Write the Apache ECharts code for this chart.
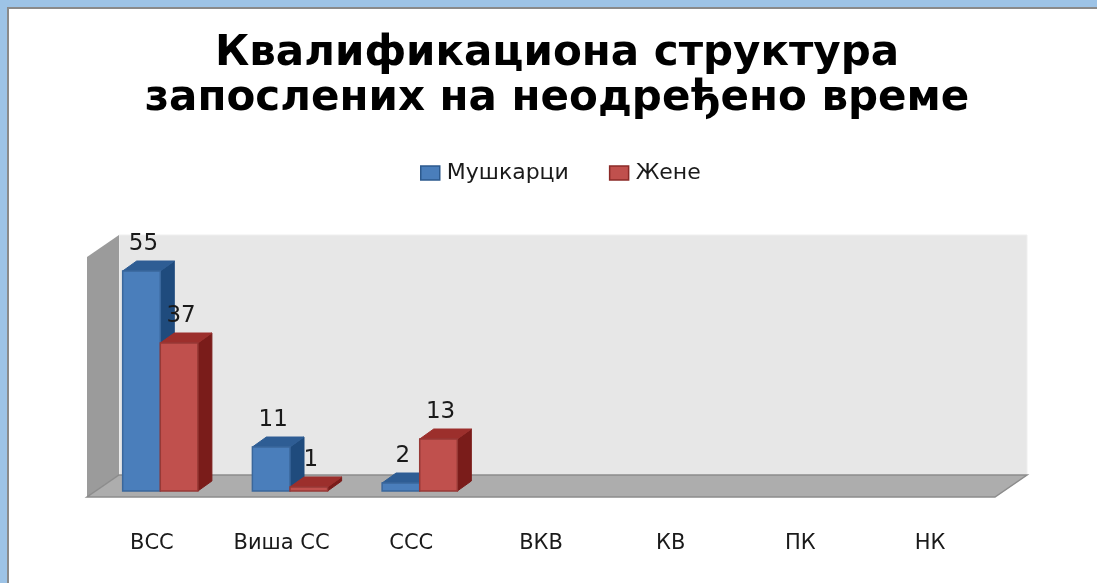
<!DOCTYPE html>
<html>
<head>
<meta charset="utf-8">
<script src="https://cdn.jsdelivr.net/npm/echarts@6/dist/echarts.min.js"></script>
<style>
  html, body { margin: 0; padding: 0; background: #9dc3e6; }
  #frame {
    position: absolute; left: 7px; top: 7px; right: 0; bottom: 0;
    border-left: 2px solid #8a8a8a; border-top: 2px solid #8a8a8a;
    background: #fff;
  }
  #chart { position: absolute; left: 0; top: 0; width: 1097px; height: 583px; }
</style>
</head>
<body>
<div id="frame"></div>
<div id="chart"></div>
<script>
// категорије и вредности
const categories = ['ВСС', 'Виша СС', 'ССС', 'ВКВ', 'КВ', 'ПК', 'НК'];
const men = [55, 11, 2, null, null, null, null];
const women = [37, 1, 13, null, null, null, null];
const seriesNames = ['Мушкарци', 'Жене'];
const axisMax = 60;

const chart = echarts.init(document.getElementById('chart'));

// дубина стубова и зидова
const BAR_DX = 14, BAR_DY = -10;
const WALL_DX = 32, WALL_DY = -22;

const palette = [
  { front: '#4a7ebb', border: '#3a679c', top: '#2e5d94', side: '#1f4b7d' },
  { front: '#c0504d', border: '#973936', top: '#9c2f2c', side: '#7a1c1a' }
];

function toData(values) {
  return values
    .map((v, i) => (v == null ? null : [i, v]))
    .filter(d => d !== null);
}

function wallsRender(params, api) {
  const base = api.coord([0, 0]);
  const band = api.size([1, 0])[0];
  const topY = api.coord([0, axisMax])[1];
  const fl = base[0] - band / 2;
  const fr = fl + band * categories.length;
  const fb = base[1] + 6;
  const ft = topY + 6;
  return {
    type: 'group',
    children: [
      {
        type: 'rect',
        shape: { x: fl + WALL_DX, y: ft + WALL_DY, width: fr - fl, height: fb - ft },
        style: { fill: '#e7e7e7', stroke: '#efefef', lineWidth: 1 }
      },
      {
        type: 'polygon',
        shape: { points: [[fl, fb], [fl, ft], [fl + WALL_DX, ft + WALL_DY], [fl + WALL_DX, fb + WALL_DY]] },
        style: { fill: '#9b9b9b' }
      },
      {
        type: 'polygon',
        shape: { points: [[fl, fb], [fr, fb], [fr + WALL_DX, fb + WALL_DY], [fl + WALL_DX, fb + WALL_DY]] },
        style: { fill: '#adadad', stroke: '#8c8c8c', lineWidth: 1.5 }
      }
    ]
  };
}

function barRender(idx) {
  const c = palette[idx];
  return function (params, api) {
    const cat = api.value(0);
    const val = api.value(1);
    const base = api.coord([cat, 0]);
    const top = api.coord([cat, val]);
    const band = api.size([1, 0])[0];
    const w = band * 0.29;
    const x0 = base[0] - band * 0.225 + idx * w;
    const x1 = x0 + w;
    const yb = base[1];
    const yt = top[1];
    return {
      type: 'group',
      children: [
        {
          type: 'polygon',
          shape: { points: [[x1, yt], [x1 + BAR_DX, yt + BAR_DY], [x1 + BAR_DX, yb + BAR_DY], [x1, yb]] },
          style: { fill: c.side, stroke: c.side, lineWidth: 1 }
        },
        {
          type: 'polygon',
          shape: { points: [[x0, yt], [x0 + BAR_DX, yt + BAR_DY], [x1 + BAR_DX, yt + BAR_DY], [x1, yt]] },
          style: { fill: c.top, stroke: c.top, lineWidth: 1 }
        },
        {
          type: 'rect',
          shape: { x: x0, y: yt, width: w, height: yb - yt },
          style: { fill: c.front, stroke: c.border, lineWidth: 1.5 }
        },
        {
          type: 'text',
          x: x0 + w / 2 + 2,
          y: yt - 15,
          style: {
            text: String(val),
            align: 'center',
            verticalAlign: 'bottom',
            font: '23px "DejaVu Sans"',
            fill: '#1a1a1a'
          },
          z2: 10
        }
      ]
    };
  };
}

const option = {
  animation: false,
  graphic: [
    {
      type: 'text',
      x: 557,
      y: 32,
      style: {
        text: 'Квалификациона структура\nзапослених на неодређено време',
        align: 'center',
        font: 'bold 42px "DejaVu Sans"',
        lineHeight: 45,
        fill: '#000'
      }
    }
  ],
  legend: {
    data: [
      { name: seriesNames[0], itemStyle: { color: palette[0].front, borderColor: '#2d5a8e', borderWidth: 1.5 } },
      { name: seriesNames[1], itemStyle: { color: palette[1].front, borderColor: '#8b2a27', borderWidth: 1.5 } }
    ],
    left: 415,
    top: 157,
    icon: 'rect',
    itemWidth: 19,
    itemHeight: 14,
    itemGap: 40,
    textStyle: { fontFamily: 'DejaVu Sans', fontSize: 22, color: '#1a1a1a', padding: [0, 0, 0, 2] }
  },
  grid: { left: 87, right: 102, top: 251, bottom: 92 },
  xAxis: {
    type: 'category',
    data: categories,
    axisLine: { show: false },
    axisTick: { show: false },
    axisLabel: { margin: 42, fontFamily: 'DejaVu Sans', fontSize: 21, color: '#1a1a1a' }
  },
  yAxis: {
    type: 'value',
    min: 0,
    max: axisMax,
    show: false
  },
  series: [
    {
      name: 'walls',
      type: 'custom',
      silent: true,
      renderItem: wallsRender,
      data: [[0, 0]],
      z: 1
    },
    {
      name: seriesNames[0],
      type: 'custom',
      renderItem: barRender(0),
      itemStyle: { color: palette[0].front },
      data: toData(men),
      z: 2
    },
    {
      name: seriesNames[1],
      type: 'custom',
      renderItem: barRender(1),
      itemStyle: { color: palette[1].front },
      data: toData(women),
      z: 3
    }
  ]
};

chart.setOption(option);
</script>
</body>
</html>
